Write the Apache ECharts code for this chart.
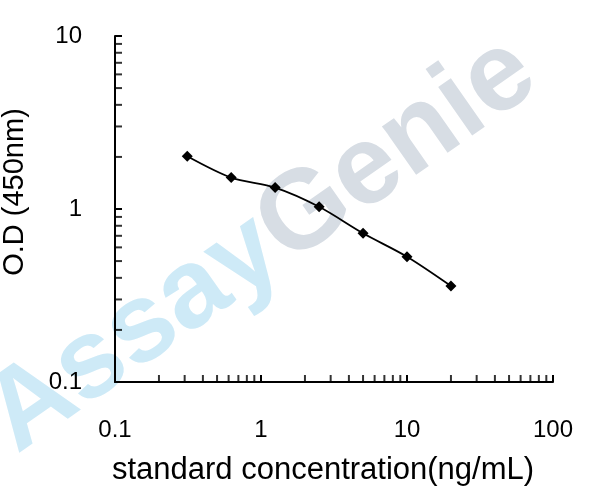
<!DOCTYPE html>
<html>
<head>
<meta charset="utf-8">
<script src="https://cdn.jsdelivr.net/npm/echarts@6/dist/echarts.min.js"></script>
<style>
  html, body { margin: 0; padding: 0; background: #fff; }
  #chart { width: 608px; height: 500px; }
</style>
</head>
<body>
<div id="chart"></div>
<script>
  // standard curve, log-log
  var concentrations = [0.3125, 0.625, 1.25, 2.5, 5, 10, 20];
  var odValues = [2.02, 1.52, 1.33, 1.03, 0.724, 0.53, 0.359];

  // minor tick positions (2..9 in each decade)
  var xMinorTicks = [0.2, 0.3, 0.4, 0.5, 0.6, 0.7, 0.8, 0.9,
                     2, 3, 4, 5, 6, 7, 8, 9,
                     20, 30, 40, 50, 60, 70, 80, 90];
  var yMinorTicks = [0.2, 0.3, 0.4, 0.5, 0.6, 0.7, 0.8, 0.9,
                     2, 3, 4, 5, 6, 7, 8, 9];

  var xMin = 0.1, xMax = 100;
  var yMin = 0.1, yMax = 10;

  var font = "'Liberation Sans', Arial, sans-serif";

  var curve = concentrations.map(function (c, i) { return [c, odValues[i]]; });
  var xTickMarks = xMinorTicks.map(function (v) { return [v, yMin]; });
  var yTickMarks = yMinorTicks.map(function (v) { return [xMin, v]; });

  var chart = echarts.init(document.getElementById('chart'));
  chart.setOption({
    animation: false,
    backgroundColor: '#fff',
    textStyle: { fontFamily: font },
    graphic: [{
      type: 'text',
      x: 262,
      y: 245,
      rotation: 35 * Math.PI / 180,
      z: -10,
      silent: true,
      style: {
        text: '{a|Assay}{g|Genie}',
        align: 'center',
        verticalAlign: 'middle',
        rich: {
          a: { fontSize: 112, fontWeight: 'bold', fontFamily: font, fill: 'rgb(206,234,247)' },
          g: { fontSize: 112, fontWeight: 'bold', fontFamily: font, fill: 'rgb(215,221,228)' }
        }
      }
    }],
    grid: {
      left: 115,
      right: 55,
      top: 36,
      bottom: 118,
      outerBoundsMode: 'none'
    },
    xAxis: {
      type: 'log',
      logBase: 10,
      min: xMin,
      max: xMax,
      name: 'standard concentration(ng/mL)',
      nameLocation: 'middle',
      nameGap: 73,
      nameTextStyle: { fontSize: 31, color: '#000', fontFamily: font, padding: [0, 22, 0, 0] },
      axisLine: { show: true, lineStyle: { color: '#000', width: 2 } },
      axisTick: { show: true, inside: true, length: 7, lineStyle: { color: '#000', width: 2 } },
      axisLabel: { fontSize: 24, color: '#000', margin: 36, fontFamily: font },
      splitLine: { show: false }
    },
    yAxis: {
      type: 'log',
      logBase: 10,
      min: yMin,
      max: yMax,
      name: 'O.D (450nm)',
      nameLocation: 'middle',
      nameRotate: 90,
      nameGap: 86,
      nameTextStyle: { fontSize: 29, color: '#000', fontFamily: font, padding: [0, 0, 0, 34] },
      axisLine: { show: true, lineStyle: { color: '#000', width: 2 } },
      axisTick: { show: true, inside: true, length: 7, lineStyle: { color: '#000', width: 2 } },
      axisLabel: { fontSize: 24, color: '#000', margin: 33, fontFamily: font },
      splitLine: { show: false }
    },
    series: [{
      name: 'x minor ticks',
      type: 'scatter',
      data: xTickMarks,
      symbol: 'rect',
      symbolSize: [2, 7],
      symbolOffset: [0, -3.5],
      itemStyle: { color: '#000' },
      clip: false,
      silent: true
    },
    {
      name: 'y minor ticks',
      type: 'scatter',
      data: yTickMarks,
      symbol: 'rect',
      symbolSize: [7, 2],
      symbolOffset: [3.5, 0],
      itemStyle: { color: '#000' },
      clip: false,
      silent: true
    },
    {
      name: 'OD',
      type: 'line',
      data: curve,
      smooth: 0.3,
      symbol: 'diamond',
      symbolSize: 11,
      lineStyle: { color: '#000', width: 1.8 },
      itemStyle: { color: '#000' },
      z: 5
    }]
  });
</script>
</body>
</html>
